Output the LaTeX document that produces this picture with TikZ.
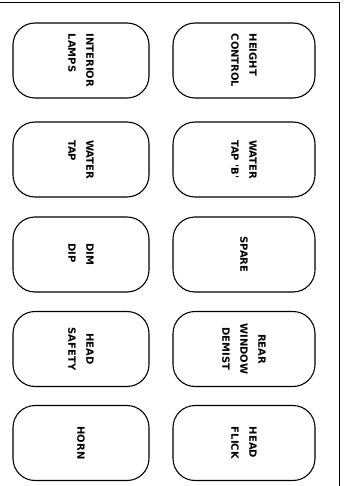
\documentclass[tikz,border=0pt]{standalone}
\usepackage{fontspec}
\usepackage{tikz}
\newfontfamily\plate{DejaVu Sans}

\begin{document}
\begin{tikzpicture}[x=1pt, y=-1pt,
    panel/.style={draw, line width=1.1pt, rounded corners=22pt, minimum height=75pt},
    leftpanel/.style={panel, minimum width=136pt},
    rightpanel/.style={panel, minimum width=142pt},
    caption/.style={rotate=-90, inner sep=0pt, font=\plate\bfseries\fontsize{10}{18}\selectfont},
    frame/.style={line width=0.9pt}
]
    \useasboundingbox (0,0) rectangle (349,486);

    % outer frame (top and right edges only)
    \coordinate (ftl) at (0,2);
    \coordinate (ftr) at (339.5,2);
    \coordinate (fbr) at (339.5,486);
    \draw[frame] (ftl) -- (ftr) -- (fbr);

    % left column
    \node[leftpanel] (lamps) at (81,60.5) {};
    \node[leftpanel] (tap) at (81,159.5) {};
    \node[leftpanel] (dim) at (81,254.5) {};
    \node[leftpanel] (safety) at (81,349) {};
    \node[leftpanel] (horn) at (81,443) {};

    % right column
    \node[rightpanel] (height) at (244,60.5) {};
    \node[rightpanel] (tapb) at (244,159.5) {};
    \node[rightpanel] (spare) at (244,254.5) {};
    \node[rightpanel] (demist) at (244,349) {};
    \node[rightpanel] (flick) at (244,443) {};

    % switch captions
    \node[caption, align=left] (lampstxt) at (lamps.center) {INTERIOR\\LAMPS};
    \node[caption, align=left] (taptxt) at (tap.center) {WATER\\TAP};
    \node[caption, align=left] (dimtxt) at (dim.center) {DIM\\DIP};
    \node[caption, align=center] (safetytxt) at (safety.center) {HEAD\\SAFETY};
    \node[caption] (horntxt) at (horn.center) {HORN};

    \node[caption, align=left] (heighttxt) at (height.center) {HEIGHT\\CONTROL};
    \node[caption, align=left] (tapbtxt) at (tapb.center) {WATER\\TAP 'B'};
    \node[caption] (sparetxt) at (spare.center) {SPARE};
    \node[caption, align=center] (demisttxt) at (demist.center) {REAR\\WINDOW\\DEMIST};
    \node[caption, align=left] (flicktxt) at (flick.center) {HEAD\\FLICK};
\end{tikzpicture}
\end{document}
